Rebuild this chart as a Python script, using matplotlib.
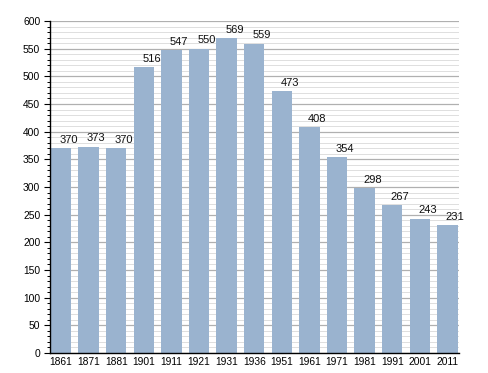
import matplotlib
matplotlib.use("Agg")
import matplotlib.pyplot as plt
from matplotlib.ticker import MultipleLocator

years = ["1861", "1871", "1881", "1901", "1911", "1921", "1931", "1936",
         "1951", "1961", "1971", "1981", "1991", "2001", "2011"]
population = [370, 373, 370, 516, 547, 550, 569, 559, 473, 408, 354, 298, 267, 243, 231]

plt.rcParams['font.family'] = ['Liberation Sans', 'DejaVu Sans']

fig = plt.figure(figsize=(4.88, 3.73), dpi=100)
ax = fig.add_axes([50 / 488, 20 / 373, 409 / 488, 332 / 373])

x = range(len(years))
ax.bar(x, population, width=0.74, color='#9ab3cf', zorder=3)

# valeurs au-dessus des barres
for i, v in zip(x, population):
    ax.text(i + 0.28, v + 6, str(v), ha='center', va='bottom', fontsize=8, color='#111111', zorder=4)

ax.set_xlim(-0.4, 14.42)
ax.set_ylim(0, 600)
ax.set_xticks(list(x))
ax.set_xticklabels(years, fontsize=7.4)
ax.yaxis.set_major_locator(MultipleLocator(50))
ax.yaxis.set_minor_locator(MultipleLocator(10))
ax.tick_params(axis='y', which='major', length=4, width=0.8, labelsize=7.4, pad=3)
ax.tick_params(axis='y', which='minor', length=2.5, width=0.7)
ax.tick_params(axis='x', length=0, pad=3)

ax.grid(axis='y', which='major', color='#b0b0b0', linewidth=0.9, zorder=1)
ax.grid(axis='y', which='minor', color='#dedede', linewidth=0.7, zorder=1)

for s in ['top', 'right']:
    ax.spines[s].set_visible(False)
ax.spines['left'].set_linewidth(1.0)
ax.spines['bottom'].set_linewidth(1.0)
ax.spines['left'].set_zorder(5)
ax.spines['bottom'].set_zorder(5)

fig.savefig("out.png", dpi=100)
